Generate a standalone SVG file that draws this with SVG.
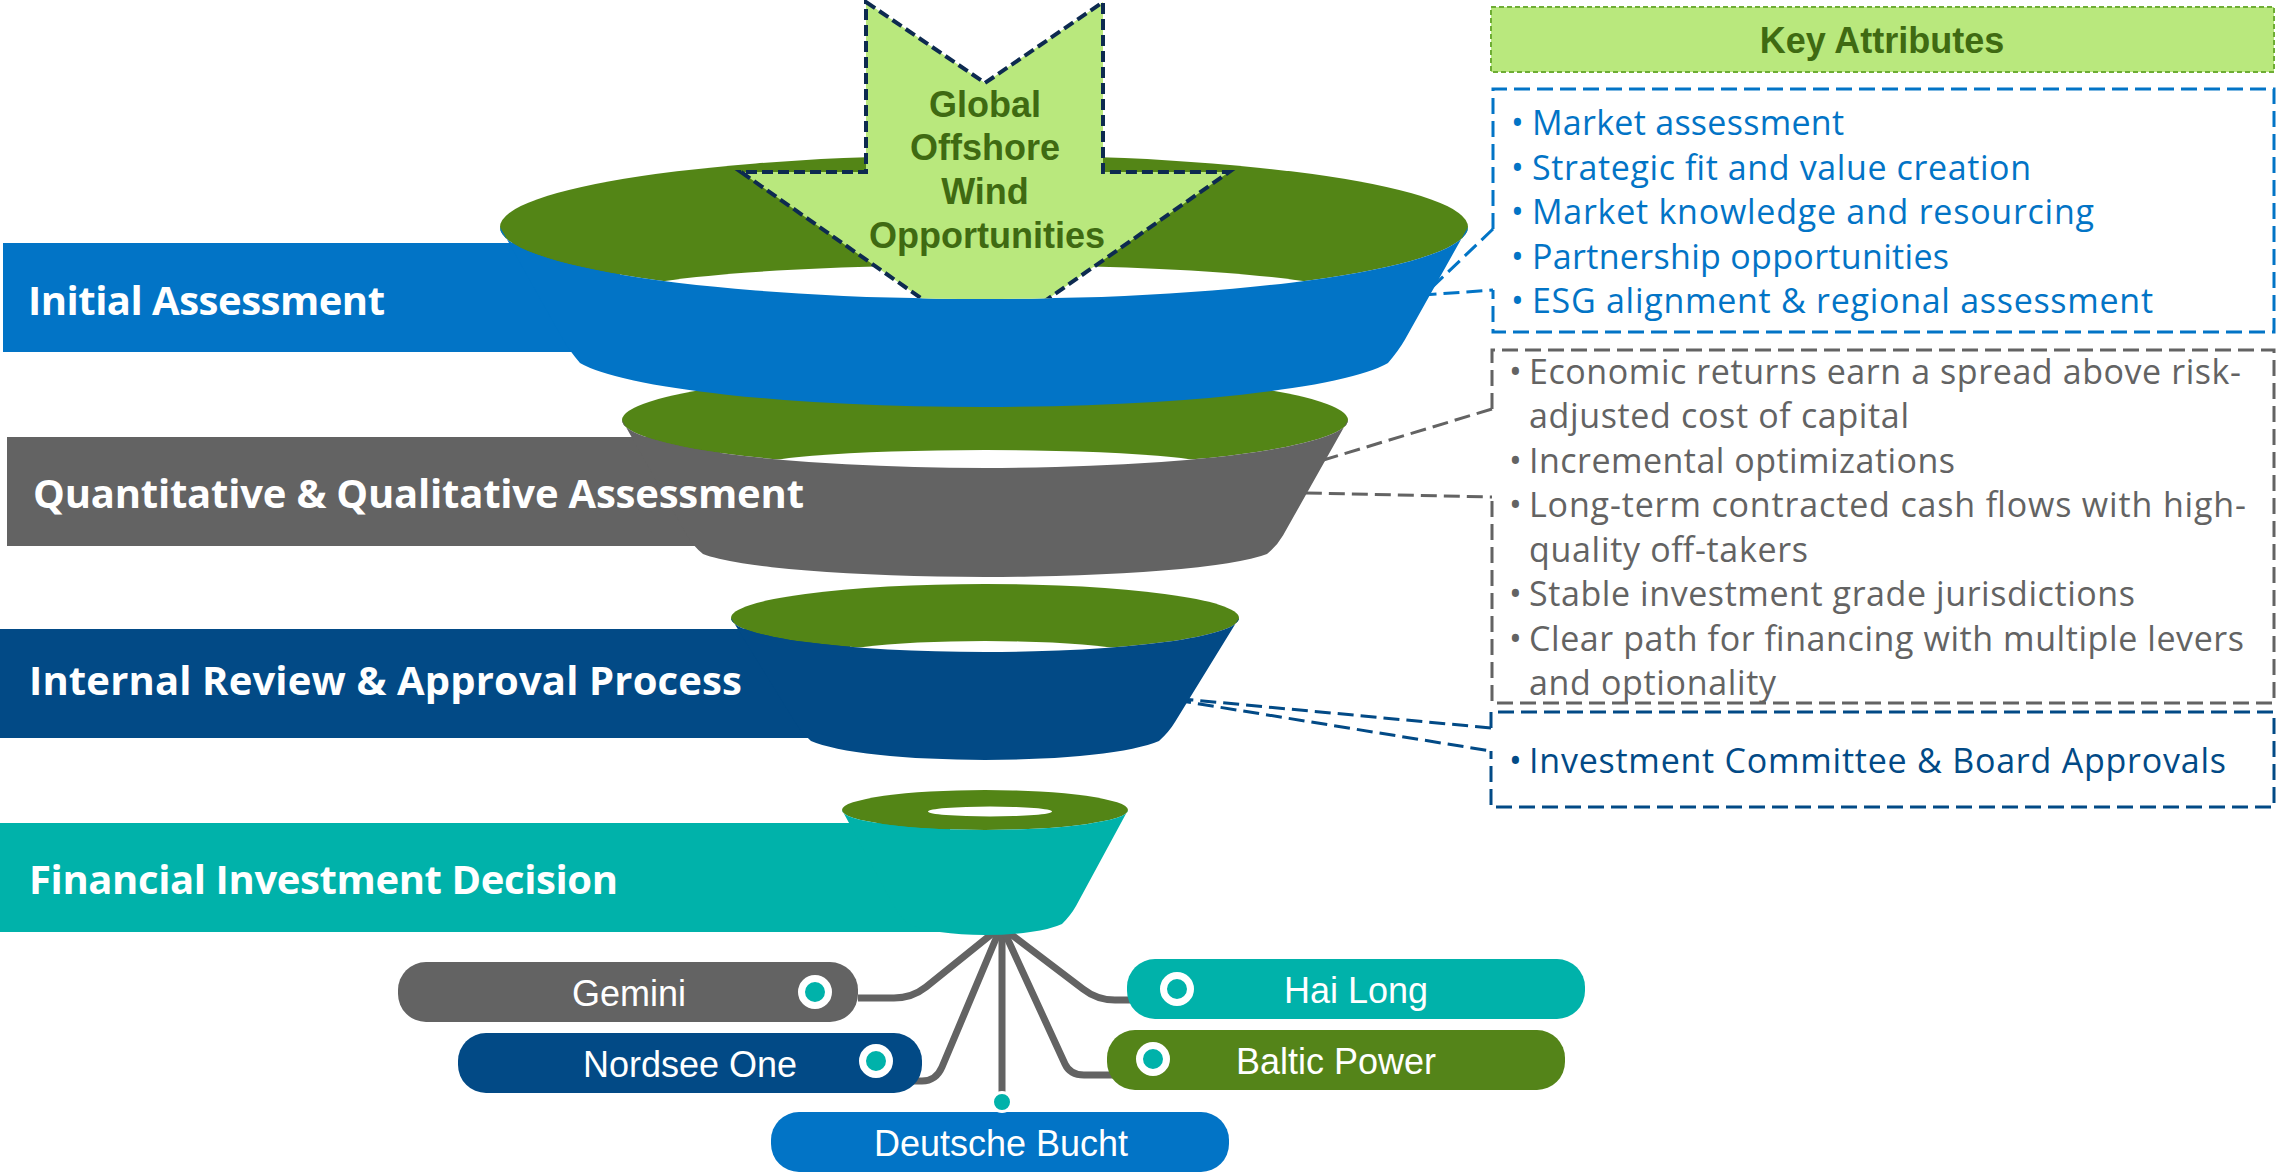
<svg xmlns="http://www.w3.org/2000/svg" width="2279" height="1175" viewBox="0 0 2279 1175">
<style>
.lbl{font-family:"Open Sans","Liberation Sans",sans-serif;font-weight:700;font-size:40px;fill:#fff}
.bul{font-family:"Open Sans","Liberation Sans",sans-serif;font-size:34px}
.pilltxt{font-family:"Liberation Sans",Arial,sans-serif;font-size:36px;fill:#fff;text-anchor:middle}
.arrtxt{font-family:"Liberation Sans",Arial,sans-serif;font-weight:700;font-size:36px;fill:#3F6A12;text-anchor:middle}
.ring{fill:#538516}
.hole{fill:#fff}
.blue{fill:#0274C6}
.gray{fill:#636363}
.navy{fill:#024A86}
.teal{fill:#00B2AA}
.green{fill:#548419}
.plink{fill:none;stroke:#636363;stroke-width:7;stroke-linejoin:round;stroke-linecap:butt}
.ptr{fill:none;stroke-width:3;stroke-dasharray:16 7}
.dot{fill:#00B2AA;stroke:#fff;stroke-width:7}
.box{fill:none;stroke-width:3;stroke-dasharray:16 7}
</style>
<defs>
<clipPath id="aboveBand">
<path d="M0,0 H2279 V227 H1468 A484,72 0 0 1 500,227 H0 Z"/>
</clipPath>
</defs>

<g id="connectors">
<path class="ptr" stroke="#0274C6" d="M1493,229 L1424,295 L1493,290"/>
<path class="ptr" stroke="#636363" d="M1492,409 L1221,491 L1492,497"/>
<path class="ptr" stroke="#024A86" d="M1491,728 L1150,696 L1491,751"/>
<path class="plink" d="M998,929 L926,987 Q912,998 894,998 L858,998"/>
<path class="plink" d="M1000,929 L942,1067 Q936,1081 922,1081 L912,1081"/>
<path class="plink" d="M1002,929 L1002,1092"/>
<path class="plink" d="M1004,929 L1083,989 Q1097,1000 1115,1000 L1135,1000"/>
<path class="plink" d="M1003,929 L1065,1064 Q1070,1075 1084,1075 L1115,1075"/>
</g>

<g id="stage-financial">
<rect class="teal" x="0" y="823" width="950" height="109"/>
<ellipse class="ring" cx="985" cy="810" rx="143" ry="20"/>
<path class="teal" d="M842,810 A143,20 0 0 0 1128,810 L1076,906 Q1071,915 1062,924 A86,20 0 0 1 908,924 Q899,915 894,906 Z"/>
<ellipse class="hole" cx="990" cy="811.5" rx="62" ry="5"/>
<text class="lbl" x="29" y="894" textLength="589">Financial Investment Decision</text>
</g>

<g id="stage-review">
<rect class="navy" x="0" y="629" width="850" height="109"/>
<ellipse class="ring" cx="985" cy="618" rx="254" ry="34"/>
<ellipse class="hole" cx="985" cy="662" rx="175" ry="21"/>
<path class="navy" d="M731,618 A254,34 0 0 0 1239,618 L1175,722 Q1169,732 1159,741 A184,28 0 0 1 811,741 Q801,732 795,722 Z"/>
<text class="lbl" x="29" y="695" textLength="713">Internal Review &amp; Approval Process</text>
</g>

<g id="stage-quant">
<rect class="gray" x="7" y="437" width="713" height="109"/>
<ellipse class="ring" cx="985" cy="420" rx="363" ry="48"/>
<ellipse class="hole" cx="985" cy="470" rx="244" ry="20"/>
<path class="gray" d="M622,420 A363,48 0 0 0 1348,420 L1283,535.5 Q1277,546 1267,554 A292,31 0 0 1 703,554 Q693,546 687,535.5 Z"/>
<text class="lbl" x="33" y="508" textLength="771">Quantitative &amp; Qualitative Assessment</text>
</g>

<g id="stage-initial">
<rect class="blue" x="3" y="243" width="617" height="109"/>
<ellipse class="ring" cx="984" cy="227" rx="484" ry="72"/>
<ellipse class="hole" cx="984" cy="298" rx="372" ry="33"/>
<path class="blue" d="M500,227 A484,72 0 0 0 1468,227 L1405,339.5 Q1399,350 1388,363 A415,57 0 0 1 580,363 Q569,350 563,339.5 Z"/>
<text class="lbl" x="28" y="315" textLength="357">Initial Assessment</text>
</g>

<g id="arrow-global">
<path clip-path="url(#aboveBand)" fill="#B9E87D" stroke="#0D2A50" stroke-width="4" stroke-dasharray="11 5" d="M866,2 L985,83 L1103,2 L1103,172 L1229,172 L985,343 L741,172 L866,172 Z"/>
<text class="arrtxt" x="985" y="117">Global</text>
<text class="arrtxt" x="985" y="160">Offshore</text>
<text class="arrtxt" x="985" y="204">Wind</text>
<text class="arrtxt" x="987" y="248">Opportunities</text>
</g>

<g id="attr-header">
<rect x="1491" y="7" width="783" height="65" fill="#B9E87D" stroke="#6EAD34" stroke-width="2" stroke-dasharray="5 3"/>
<text x="1882" y="53" font-family="Liberation Sans, Arial, sans-serif" font-weight="700" font-size="36" fill="#3F6A12" text-anchor="middle">Key Attributes</text>
</g>

<g id="attr-initial" fill="#0274C6">
<path class="box" stroke="#0274C6" d="M1493,229 V89 H2274 V332 H1493 V290"/>
<text class="bul" x="1511" y="135">•</text><text class="bul" x="1532" y="135" textLength="312">Market assessment</text>
<text class="bul" x="1511" y="179.5">•</text><text class="bul" x="1532" y="179.5" textLength="499">Strategic fit and value creation</text>
<text class="bul" x="1511" y="224">•</text><text class="bul" x="1532" y="224" textLength="562">Market knowledge and resourcing</text>
<text class="bul" x="1511" y="268.5">•</text><text class="bul" x="1532" y="268.5" textLength="417">Partnership opportunities</text>
<text class="bul" x="1511" y="313">•</text><text class="bul" x="1532" y="313" textLength="621">ESG alignment &amp; regional assessment</text>
</g>

<g id="attr-quant" fill="#636363">
<path class="box" stroke="#636363" d="M1492,409 V350 H2274 V703 H1492 V497"/>
<text class="bul" x="1509" y="383.5">•</text><text class="bul" x="1529" y="383.5" textLength="712">Economic returns earn a spread above risk-</text>
<text class="bul" x="1529" y="428" textLength="380">adjusted cost of capital</text>
<text class="bul" x="1509" y="472.5">•</text><text class="bul" x="1529" y="472.5" textLength="426">Incremental optimizations</text>
<text class="bul" x="1509" y="517">•</text><text class="bul" x="1529" y="517" textLength="717">Long-term contracted cash flows with high-</text>
<text class="bul" x="1529" y="561.5" textLength="279">quality off-takers</text>
<text class="bul" x="1509" y="606">•</text><text class="bul" x="1529" y="606" textLength="606">Stable investment grade jurisdictions</text>
<text class="bul" x="1509" y="650.5">•</text><text class="bul" x="1529" y="650.5" textLength="715">Clear path for financing with multiple levers</text>
<text class="bul" x="1529" y="695" textLength="247">and optionality</text>
</g>

<g id="attr-review" fill="#024A86">
<path class="box" stroke="#024A86" d="M1491,728 V712 H2274 V807 H1491 V751"/>
<text class="bul" x="1509" y="773">•</text><text class="bul" x="1529" y="773" textLength="697">Investment Committee &amp; Board Approvals</text>
</g>

<g id="proj-gemini">
<rect class="gray" x="398" y="962" width="460" height="60" rx="28"/>
<text class="pilltxt" x="629" y="1006">Gemini</text>
<circle class="dot" cx="815" cy="992" r="13.5"/>
</g>
<g id="proj-nordsee">
<rect class="navy" x="458" y="1033" width="464" height="60" rx="28"/>
<text class="pilltxt" x="690" y="1077">Nordsee One</text>
<circle class="dot" cx="876" cy="1061" r="13.5"/>
</g>
<g id="proj-deutsche">
<rect class="blue" x="771" y="1112" width="458" height="60" rx="28"/>
<text class="pilltxt" x="1001" y="1156">Deutsche Bucht</text>
<circle cx="1002" cy="1102" r="9.5" fill="#00B2AA" stroke="#fff" stroke-width="3"/>
</g>
<g id="proj-hailong">
<rect class="teal" x="1127" y="959" width="458" height="60" rx="28"/>
<text class="pilltxt" x="1356" y="1003">Hai Long</text>
<circle class="dot" cx="1177" cy="989" r="13.5"/>
</g>
<g id="proj-baltic">
<rect class="green" x="1107" y="1030" width="458" height="60" rx="28"/>
<text class="pilltxt" x="1336" y="1074">Baltic Power</text>
<circle class="dot" cx="1153" cy="1059" r="13.5"/>
</g>
</svg>
